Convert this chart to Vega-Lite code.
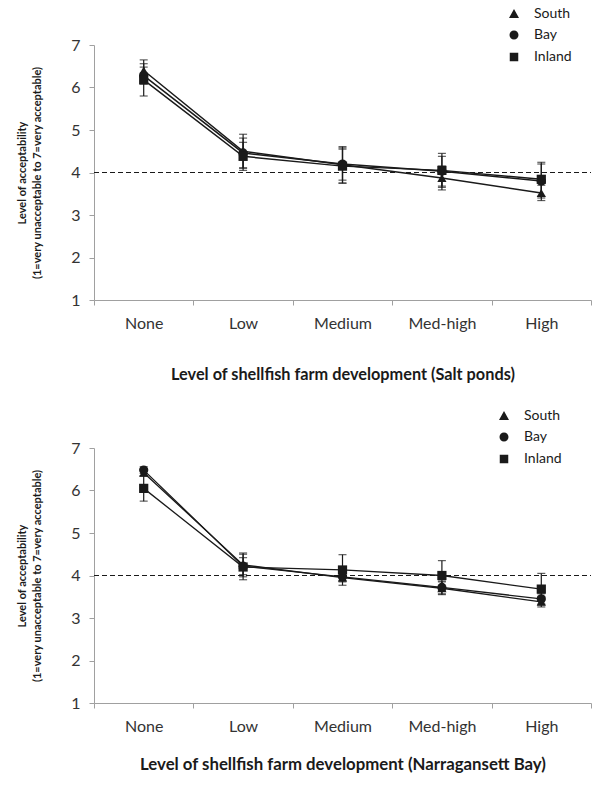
{
  "$schema": "https://vega.github.io/schema/vega-lite/v6.json",
  "padding": {"left": 16, "top": 7, "right": 0, "bottom": 0},
  "config": {
    "font": "Lato",
    "view": {"stroke": null},
    "axis": {
      "domainColor": "#a0a0a0",
      "tickColor": "#a0a0a0",
      "labelColor": "#333333",
      "labelFontSize": 16,
      "titleColor": "#1a1a1a",
      "titleFontWeight": "bold",
      "grid": false
    },
    "legend": {
      "labelFontSize": 14, "labelColor": "#1a1a1a", "labelOffset": 13, "rowPadding": 6,
      "symbolSize": 100, "symbolOpacity": 1, "symbolStrokeColor": "#1a1a1a", "symbolStrokeWidth": 1.5, "symbolFillColor": "#1a1a1a"
    }
  },
  "data": {
    "values": [
      {"site": "Salt ponds", "level": "None", "region": "South", "mean": 6.40, "lo": 6.15, "hi": 6.65},
      {"site": "Salt ponds", "level": "None", "region": "Bay", "mean": 6.28, "lo": 6.08, "hi": 6.48},
      {"site": "Salt ponds", "level": "None", "region": "Inland", "mean": 6.18, "lo": 5.80, "hi": 6.56},
      {"site": "Salt ponds", "level": "Low", "region": "South", "mean": 4.50, "lo": 4.10, "hi": 4.90},
      {"site": "Salt ponds", "level": "Low", "region": "Bay", "mean": 4.46, "lo": 4.11, "hi": 4.81},
      {"site": "Salt ponds", "level": "Low", "region": "Inland", "mean": 4.38, "lo": 4.05, "hi": 4.71},
      {"site": "Salt ponds", "level": "Medium", "region": "South", "mean": 4.18, "lo": 3.75, "hi": 4.61},
      {"site": "Salt ponds", "level": "Medium", "region": "Bay", "mean": 4.20, "lo": 3.82, "hi": 4.58},
      {"site": "Salt ponds", "level": "Medium", "region": "Inland", "mean": 4.15, "lo": 3.75, "hi": 4.55},
      {"site": "Salt ponds", "level": "Med-high", "region": "South", "mean": 3.87, "lo": 3.59, "hi": 4.15},
      {"site": "Salt ponds", "level": "Med-high", "region": "Bay", "mean": 4.03, "lo": 3.68, "hi": 4.38},
      {"site": "Salt ponds", "level": "Med-high", "region": "Inland", "mean": 4.05, "lo": 3.65, "hi": 4.45},
      {"site": "Salt ponds", "level": "High", "region": "South", "mean": 3.52, "lo": 3.34, "hi": 3.70},
      {"site": "Salt ponds", "level": "High", "region": "Bay", "mean": 3.80, "lo": 3.40, "hi": 4.20},
      {"site": "Salt ponds", "level": "High", "region": "Inland", "mean": 3.84, "lo": 3.44, "hi": 4.24},
      {"site": "Narragansett Bay", "level": "None", "region": "South", "mean": 6.42, "lo": 6.34, "hi": 6.50},
      {"site": "Narragansett Bay", "level": "None", "region": "Bay", "mean": 6.48, "lo": 6.40, "hi": 6.56},
      {"site": "Narragansett Bay", "level": "None", "region": "Inland", "mean": 6.05, "lo": 5.75, "hi": 6.35},
      {"site": "Narragansett Bay", "level": "Low", "region": "South", "mean": 4.25, "lo": 3.97, "hi": 4.53},
      {"site": "Narragansett Bay", "level": "Low", "region": "Bay", "mean": 4.22, "lo": 4.02, "hi": 4.42},
      {"site": "Narragansett Bay", "level": "Low", "region": "Inland", "mean": 4.20, "lo": 3.90, "hi": 4.50},
      {"site": "Narragansett Bay", "level": "Medium", "region": "South", "mean": 3.95, "lo": 3.85, "hi": 4.05},
      {"site": "Narragansett Bay", "level": "Medium", "region": "Bay", "mean": 3.97, "lo": 3.87, "hi": 4.07},
      {"site": "Narragansett Bay", "level": "Medium", "region": "Inland", "mean": 4.13, "lo": 3.77, "hi": 4.49},
      {"site": "Narragansett Bay", "level": "Med-high", "region": "South", "mean": 3.70, "lo": 3.55, "hi": 3.85},
      {"site": "Narragansett Bay", "level": "Med-high", "region": "Bay", "mean": 3.72, "lo": 3.57, "hi": 3.87},
      {"site": "Narragansett Bay", "level": "Med-high", "region": "Inland", "mean": 4.00, "lo": 3.65, "hi": 4.35},
      {"site": "Narragansett Bay", "level": "High", "region": "South", "mean": 3.38, "lo": 3.26, "hi": 3.50},
      {"site": "Narragansett Bay", "level": "High", "region": "Bay", "mean": 3.45, "lo": 3.33, "hi": 3.57},
      {"site": "Narragansett Bay", "level": "High", "region": "Inland", "mean": 3.68, "lo": 3.31, "hi": 4.05}
    ]
  },
  "resolve": {"legend": {"shape": "independent"}, "scale": {"shape": "independent"}},
  "spacing": 26,
  "vconcat": [
    {
      "width": 497,
      "height": 255,
      "transform": [{"filter": "datum.site === 'Salt ponds'"}],
      "encoding": {
        "x": {
          "field": "level", "type": "nominal", "sort": ["None", "Low", "Medium", "Med-high", "High"],
          "scale": {"type": "band", "paddingInner": 0, "paddingOuter": 0},
          "axis": {"title": "Level of shellfish farm development (Salt ponds)", "labelAngle": 0, "tickBand": "extent", "tickSize": 5, "labelPadding": 10, "titlePadding": 35, "titleFontSize": 16.3}
        }
      },
      "layer": [
        {
          "mark": {"type": "rule", "strokeDash": [5, 3], "color": "#1a1a1a", "strokeWidth": 1.2},
          "encoding": {"x": {"value": 0}, "x2": {"value": 497}, "y": {"datum": 4, "type": "quantitative", "scale": {"domain": [1, 7]}}}
        },
        {
          "mark": {"type": "errorbar", "color": "#1a1a1a", "ticks": {"size": 8, "color": "#1a1a1a"}, "thickness": 1.2},
          "encoding": {
            "y": {"field": "lo", "type": "quantitative", "title": ["Level of acceptability", "(1=very unacceptable to 7=very acceptable)"]},
            "y2": {"field": "hi"},
            "detail": {"field": "region"}
          }
        },
        {
          "mark": {"type": "line", "color": "#1a1a1a", "strokeWidth": 1.5},
          "encoding": {
            "y": {"field": "mean", "type": "quantitative", "title": ["Level of acceptability", "(1=very unacceptable to 7=very acceptable)"]},
            "detail": {"field": "region"}
          }
        },
        {
          "mark": {"type": "point", "filled": false, "color": "#1a1a1a", "fill": "#1a1a1a", "stroke": "#1a1a1a", "strokeWidth": 1.5, "opacity": 0, "size": 100},
          "encoding": {
            "y": {
              "field": "mean", "type": "quantitative",
              "title": ["Level of acceptability", "(1=very unacceptable to 7=very acceptable)"],
              "scale": {"domain": [1, 7]},
              "axis": {"values": [1, 2, 3, 4, 5, 6, 7], "tickSize": 5, "labelPadding": 9, "titlePadding": 28, "titleFontSize": 11, "titleLineHeight": 15}
            },
            "shape": {
              "field": "region", "type": "nominal",
              "scale": {"domain": ["South", "Bay", "Inland"], "range": ["M-3.3,0H3.3M0,-1L1,0.8L-1,0.8Z", "M-3.3,0H3.3M-0.9,0A0.9,0.9 0 1 0 0.9,0A0.9,0.9 0 1 0 -0.9,0Z", "M-3.3,0H3.3M-0.85,-0.85H0.85V0.85H-0.85Z"]},
              "legend": {
                "title": null, "orient": "none", "legendX": 413, "legendY": -38, "symbolOpacity": 1,
                "encode": {"symbols": {"stroke": {"value": "#1a1a1a"}, "strokeWidth": {"value": 1.5}, "fill": {"value": "#1a1a1a"}}}
              }
            }
          }
        },
        {
          "transform": [{"filter": "datum.region === 'South'"}],
          "mark": {"type": "point", "filled": true, "color": "#1a1a1a", "opacity": 1, "size": 85, "shape": "triangle-up"},
          "encoding": {"y": {"field": "mean", "type": "quantitative", "title": ["Level of acceptability", "(1=very unacceptable to 7=very acceptable)"]}}
        },
        {
          "transform": [{"filter": "datum.region === 'Bay'"}],
          "mark": {"type": "point", "filled": true, "color": "#1a1a1a", "opacity": 1, "size": 85, "shape": "circle"},
          "encoding": {"y": {"field": "mean", "type": "quantitative", "title": ["Level of acceptability", "(1=very unacceptable to 7=very acceptable)"]}}
        },
        {
          "transform": [{"filter": "datum.region === 'Inland'"}],
          "mark": {"type": "point", "filled": true, "color": "#1a1a1a", "opacity": 1, "size": 85, "shape": "square"},
          "encoding": {"y": {"field": "mean", "type": "quantitative", "title": ["Level of acceptability", "(1=very unacceptable to 7=very acceptable)"]}}
        }
      ]
    },
    {
      "width": 497,
      "height": 255,
      "transform": [{"filter": "datum.site === 'Narragansett Bay'"}],
      "encoding": {
        "x": {
          "field": "level", "type": "nominal", "sort": ["None", "Low", "Medium", "Med-high", "High"],
          "scale": {"type": "band", "paddingInner": 0, "paddingOuter": 0},
          "axis": {"title": "Level of shellfish farm development (Narragansett Bay)", "labelAngle": 0, "tickBand": "extent", "tickSize": 5, "labelPadding": 10, "titlePadding": 22, "titleFontSize": 16.8}
        }
      },
      "layer": [
        {
          "mark": {"type": "rule", "strokeDash": [5, 3], "color": "#1a1a1a", "strokeWidth": 1.2},
          "encoding": {"x": {"value": 0}, "x2": {"value": 497}, "y": {"datum": 4, "type": "quantitative", "scale": {"domain": [1, 7]}}}
        },
        {
          "mark": {"type": "errorbar", "color": "#1a1a1a", "ticks": {"size": 8, "color": "#1a1a1a"}, "thickness": 1.2},
          "encoding": {
            "y": {"field": "lo", "type": "quantitative", "title": ["Level of acceptability", "(1=very unacceptable to 7=very acceptable)"]},
            "y2": {"field": "hi"},
            "detail": {"field": "region"}
          }
        },
        {
          "mark": {"type": "line", "color": "#1a1a1a", "strokeWidth": 1.3},
          "encoding": {
            "y": {"field": "mean", "type": "quantitative", "title": ["Level of acceptability", "(1=very unacceptable to 7=very acceptable)"]},
            "detail": {"field": "region"}
          }
        },
        {
          "mark": {"type": "point", "filled": false, "color": "#1a1a1a", "fill": "#1a1a1a", "stroke": "#1a1a1a", "strokeWidth": 1.5, "opacity": 0, "size": 100},
          "encoding": {
            "y": {
              "field": "mean", "type": "quantitative",
              "title": ["Level of acceptability", "(1=very unacceptable to 7=very acceptable)"],
              "scale": {"domain": [1, 7]},
              "axis": {"values": [1, 2, 3, 4, 5, 6, 7], "tickSize": 5, "labelPadding": 9, "titlePadding": 28, "titleFontSize": 11, "titleLineHeight": 15}
            },
            "shape": {
              "field": "region", "type": "nominal",
              "scale": {"domain": ["South", "Bay", "Inland"], "range": ["M-3.3,0H3.3M0,-1L1,0.8L-1,0.8Z", "M-3.3,0H3.3M-0.9,0A0.9,0.9 0 1 0 0.9,0A0.9,0.9 0 1 0 -0.9,0Z", "M-3.3,0H3.3M-0.85,-0.85H0.85V0.85H-0.85Z"]},
              "legend": {
                "title": null, "orient": "none", "legendX": 403, "legendY": -39, "symbolOpacity": 1,
                "encode": {"symbols": {"stroke": {"value": "#1a1a1a"}, "strokeWidth": {"value": 1.5}, "fill": {"value": "#1a1a1a"}}}
              }
            }
          }
        },
        {
          "transform": [{"filter": "datum.region === 'South'"}],
          "mark": {"type": "point", "filled": true, "color": "#1a1a1a", "opacity": 1, "size": 85, "shape": "triangle-up"},
          "encoding": {"y": {"field": "mean", "type": "quantitative", "title": ["Level of acceptability", "(1=very unacceptable to 7=very acceptable)"]}}
        },
        {
          "transform": [{"filter": "datum.region === 'Bay'"}],
          "mark": {"type": "point", "filled": true, "color": "#1a1a1a", "opacity": 1, "size": 85, "shape": "circle"},
          "encoding": {"y": {"field": "mean", "type": "quantitative", "title": ["Level of acceptability", "(1=very unacceptable to 7=very acceptable)"]}}
        },
        {
          "transform": [{"filter": "datum.region === 'Inland'"}],
          "mark": {"type": "point", "filled": true, "color": "#1a1a1a", "opacity": 1, "size": 85, "shape": "square"},
          "encoding": {"y": {"field": "mean", "type": "quantitative", "title": ["Level of acceptability", "(1=very unacceptable to 7=very acceptable)"]}}
        }
      ]
    }
  ]
}
